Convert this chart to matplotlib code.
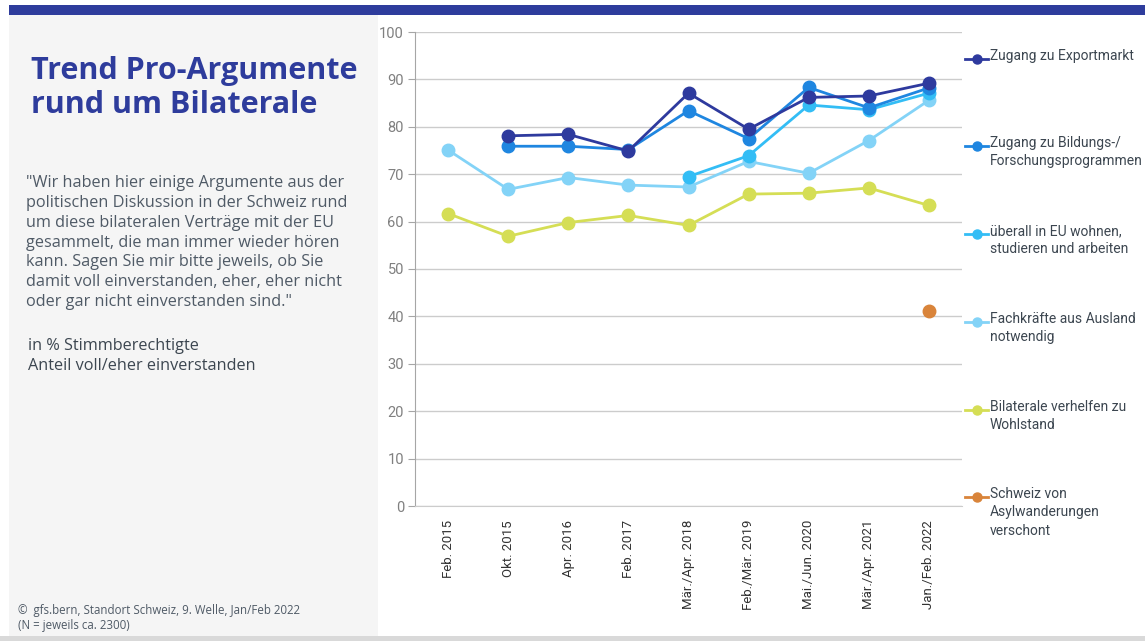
import matplotlib.pyplot as plt
from matplotlib.patches import Rectangle
from matplotlib.lines import Line2D
import numpy as np

waves = ['Feb. 2015', 'Okt. 2015', 'Apr. 2016', 'Feb. 2017', 'Mär./Apr. 2018',
         'Feb./Mär. 2019', 'Mai./Jun. 2020', 'Mär./Apr. 2021', 'Jan./Feb. 2022']
nan = np.nan
exportmarkt = [nan, 78.1, 78.4, 74.9, 87.1, 79.5, 86.2, 86.5, 89.2]
bildung = [nan, 75.9, 75.9, 75.2, 83.4, 77.5, 88.3, 84.0, 88.2]
eu_wohnen = [nan, nan, nan, nan, 69.5, 73.9, 84.6, 83.6, 87.1]
fachkraefte = [75.1, 66.8, 69.3, 67.7, 67.3, 72.7, 70.2, 77.1, 85.6]
wohlstand = [61.7, 56.9, 59.8, 61.3, 59.2, 65.8, 66.0, 67.1, 63.4]
asyl = [nan, nan, nan, nan, nan, nan, nan, nan, 41.2]

series_labels = ['Zugang zu Exportmarkt', 'Zugang zu Bildungs-/\nForschungsprogrammen',
                 'überall in EU wohnen,\nstudieren und arbeiten',
                 'Fachkräfte aus Ausland\nnotwendig', 'Bilaterale verhelfen zu\nWohlstand',
                 'Schweiz von\nAsylwanderungen\nverschont']
colors = ['#2e3a9e', '#1f86e0', '#33bdf5', '#83d3f7', '#d5de55', '#d9843a']
navy = '#2e3c9c'

fig = plt.figure(figsize=(11.45, 6.41), dpi=100)
fig.patch.set_facecolor('white')

# page decoration
fig.add_artist(Rectangle((9/1145, 1-15/641), 1-9/1145, 10/641, transform=fig.transFigure,
                         color=navy, lw=0))
fig.add_artist(Rectangle((9/1145, 5/641), 369/1145, 1-20/641, transform=fig.transFigure,
                         color='#f5f5f5', lw=0))
fig.add_artist(Rectangle((0, 0), 1, 5/641, transform=fig.transFigure, color='#d9d9d9', lw=0))

ax = fig.add_axes([415/1145, 1-506/641, (962-415)/1145, (506-32)/641])
x = np.arange(len(waves))
data = [exportmarkt, bildung, eu_wohnen, fachkraefte, wohlstand, asyl]
order = [4, 3, 2, 1, 0, 5]
for i in order:
    ax.plot(x, data[i], color=colors[i], lw=2.0, marker='o', markersize=9, zorder=3 + (5 - i))

ax.set_xlim(-0.55, len(waves) - 0.45)
ax.set_ylim(0, 100)
ax.set_yticks(range(0, 101, 10))
ax.set_xticks(x)
ax.set_xticklabels(waves, rotation=90, fontsize=9.5, color='#333333', family='Roboto')
ax.tick_params(axis='x', length=0, pad=10)
ax.tick_params(axis='y', length=5, color='#a6a6a6', labelsize=10.5, labelcolor='#808080', pad=3)
for lab in ax.get_yticklabels():
    lab.set_family('Roboto')
ax.grid(axis='y', color='#cccccc', lw=1)
ax.set_axisbelow(True)
for s in ['top', 'right']:
    ax.spines[s].set_visible(False)
ax.spines['left'].set_color('#a6a6a6')
ax.spines['bottom'].set_color('#cccccc')
ax.set_facecolor('none')

# legend on the right
leg_y = [59, 146, 234, 322, 410, 497]
for i, yy in enumerate(leg_y):
    fy = 1 - yy/641
    fig.add_artist(Line2D([965/1145, 988/1145], [fy, fy], transform=fig.transFigure,
                          color=colors[i], lw=2.0))
    fig.add_artist(Line2D([976.5/1145], [fy], transform=fig.transFigure,
                          color=colors[i], marker='o', markersize=6.5, lw=0))
    fig.text(990/1145, fy + 10/641, series_labels[i], fontsize=10, color='#3c4650',
             family='Roboto', va='top', ha='left', linespacing=1.4)

# left text panel
fig.text(31/1145, 1-88/641, 'Trend Pro-Argumente\nrund um Bilaterale', fontsize=22,
         fontweight='bold', color=navy, family='Open Sans', va='center', ha='left',
         linespacing=1.15)
quote = ('"Wir haben hier einige Argumente aus der\n'
         'politischen Diskussion in der Schweiz rund\n'
         'um diese bilateralen Verträge mit der EU\n'
         'gesammelt, die man immer wieder hören\n'
         'kann. Sagen Sie mir bitte jeweils, ob Sie\n'
         'damit voll einverstanden, eher, eher nicht\n'
         'oder gar nicht einverstanden sind."')
fig.text(26/1145, 1-175/641, quote, fontsize=11.7, color='#4f5a66', family='Open Sans',
         va='top', ha='left', linespacing=1.32)
fig.text(28/1145, 1-338/641, 'in % Stimmberechtigte\nAnteil voll/eher einverstanden',
         fontsize=11.7, color='#3c4650', family='Open Sans', va='top', ha='left',
         linespacing=1.32)
fig.text(18/1145, 1-604/641, '©  gfs.bern, Standort Schweiz, 9. Welle, Jan/Feb 2022\n(N = jeweils ca. 2300)',
         fontsize=8.3, color='#4f5a66', family='Open Sans', va='top', ha='left',
         linespacing=1.2)

fig.savefig('out.png', dpi=100)
